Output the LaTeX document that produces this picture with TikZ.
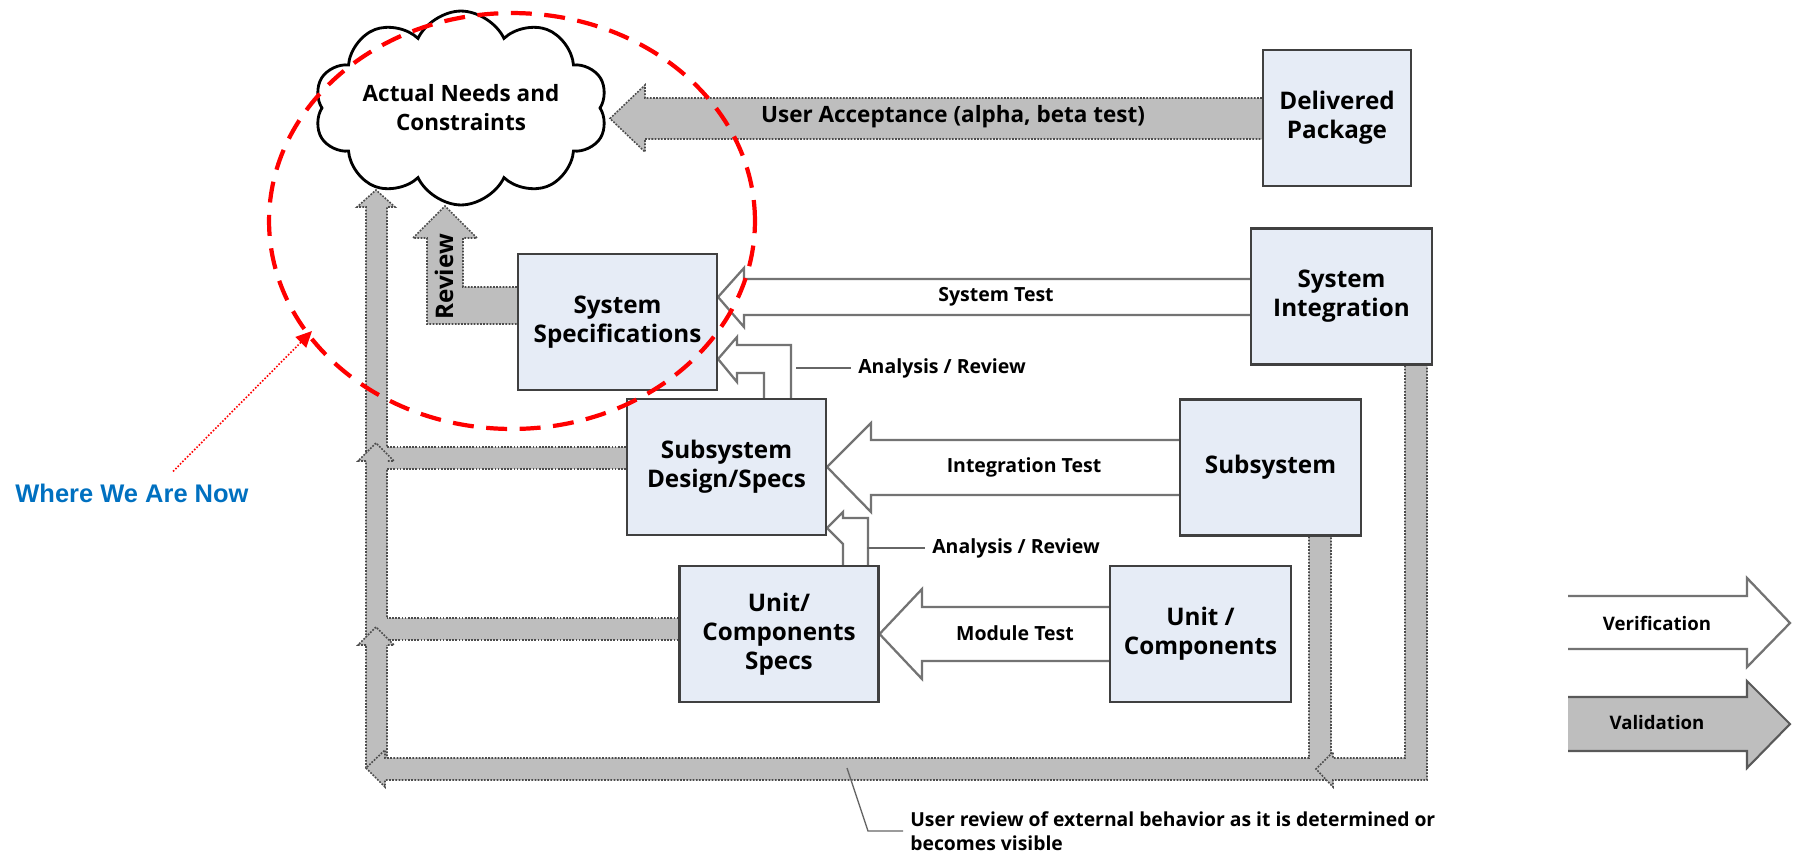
\documentclass[tikz,border=0pt]{standalone}
\usepackage{fontspec}
\setmainfont{Open Sans}
\newfontfamily\arialfont{Liberation Sans}
\usepackage{tikz}
\usetikzlibrary{arrows.meta,positioning,calc,shapes.symbols,backgrounds}

\definecolor{boxfill}{RGB}{230,236,246}
\definecolor{vgray}{RGB}{190,190,190}
\definecolor{nowblue}{RGB}{0,112,192}
\newcommand\boxfont{\fontsize{13.8}{16.5}\selectfont\bfseries}
\newcommand\cloudfont{\fontsize{12.8}{16.5}\selectfont\bfseries}
\newcommand\lblfont{\fontsize{11.1}{13}\selectfont\bfseries}
\newcommand\keyfont{\fontsize{10.6}{13}\selectfont\bfseries}
\newcommand\notefont{\fontsize{11}{13.6}\selectfont\bfseries}
\newcommand\nowfont{\arialfont\fontsize{14.5}{17}\selectfont\bfseries}

\begin{document}
\begin{tikzpicture}[x=0.02cm,y=-0.02cm,
  box/.style={draw=black!75,line width=1.2pt,fill=boxfill,align=center,font=\boxfont,
    minimum width=3.98cm,minimum height=2.72cm,inner sep=0pt},
  sbox/.style={box,minimum width=3.62cm},
  needs/.style={cloud,cloud puffs=10,cloud puff arc=130,aspect=1.9,draw,line width=1.6pt,
    minimum width=5.7cm,minimum height=3.2cm,align=center,font=\cloudfont,inner sep=0pt},
  valid/.style={fill=vgray,draw=black!70,line width=0.9pt,dash pattern=on 1pt off 0.8pt},
  verif/.style={fill=white,draw=black!55,line width=1.3pt},
  lbl/.style={font=\lblfont,inner sep=4pt},
  lead/.style={draw=black!60,line width=1pt},
  ring/.style={draw=red,line width=2.4pt,dash pattern=on 0.42cm off 0.25cm}]
  \useasboundingbox (0,0) rectangle (1796,853);

  % the blocks
  \node[needs](needs) at (461,108){Actual Needs and\\Constraints};
  \node[box](spec) at (617.5,322){System\\Specifications};
  \node[box](subd) at (726.5,467){Subsystem\\Design/Specs};
  \node[box](unitd) at (779,634){Unit/\\Components\\Specs};
  \node[box,minimum width=2.96cm](deliv) at (1337,118){Delivered\\Package};
  \node[sbox](sysint) at (1341.5,296.5){System\\Integration};
  \node[sbox](subsys) at (1270.5,467.5){Subsystem};
  \node[sbox](unitc) at (1200.5,634){Unit /\\Components};

  \begin{scope}[on background layer]
    % validation (grey)
    \path[valid] (deliv.west |- 0,98) -- (645,98) -- (645,85) -- (610,118.5) -- (645,152) -- (645,139) -- (deliv.west |- 0,139);
    \path[valid] (spec.west |- 0,287) -- (463,287) -- (463,238) -- (477,238) -- (445,206) -- (413,238) -- (427,238) -- (427,324) -- (spec.west |- 0,324);
    \path[valid] (366,768) -- (366,207) -- (357,207) -- (376,190) -- (395,207) -- (387,207) -- (387,758);
    \fill[vgray] (subd.west |- 0,447) rectangle (367,469);
    \draw[valid,fill=none] (subd.west |- 0,447) -- (387,447) (subd.west |- 0,469) -- (387,469);
    \path[valid] (366,461) -- (358,461) -- (376,443) -- (394,461) -- (387,461);
    \fill[vgray] (unitd.west |- 0,618) rectangle (367,640);
    \draw[valid,fill=none] (unitd.west |- 0,618) -- (387,618) (unitd.west |- 0,640) -- (387,640);
    \path[valid] (366,645) -- (358,645) -- (376,627) -- (394,645) -- (387,645);
    \path[valid] (1309,0 |- subsys.south) -- (1309,758) -- (385,758) -- (385,750) -- (366,768) -- (385,787) -- (385,780) -- (1331,780) -- (1331,0 |- subsys.south);
    \path[valid] (1405,0 |- sysint.south) -- (1405,758) -- (1333,758) -- (1333,752) -- (1316,769) -- (1333,787) -- (1333,780) -- (1427,780) -- (1427,0 |- sysint.south);

    % verification (white)
    \path[verif] (sysint.west |- 0,279) -- (744,279) -- (744,268) -- (spec.east |- 0,297) -- (744,327) -- (744,315) -- (sysint.west |- 0,315);
    \path[verif] (subsys.west |- 0,440) -- (871,440) -- (871,423) -- (subd.east |- 0,467) -- (871,512) -- (871,495) -- (subsys.west |- 0,495);
    \path[verif] (unitc.west |- 0,607) -- (922,607) -- (922,589) -- (unitd.east |- 0,634) -- (922,679) -- (922,661) -- (unitc.west |- 0,661);
    \path[verif] (764,0 |- subd.north) -- (764,373) -- (737,373) -- (737,382) -- (spec.east |- 0,359) -- (737,337) -- (737,345) -- (791,345) -- (791,0 |- subd.north);
    \path[verif] (843,0 |- unitd.north) -- (843,544) -- (subd.east |- 0,528) -- (843,512) -- (843,518) -- (868,518) -- (868,0 |- unitd.north);
  \end{scope}

  % labels
  \node[font=\cloudfont](ua) at (953,117){User Acceptance (alpha, beta test)};
  \node[font=\boxfont,rotate=90](rev) at (444,277){Review};
  \node[lbl](st) at (996,297){System Test};
  \node[lbl](it) at (1024,467){Integration Test};
  \node[lbl](mt) at (1015,633){Module Test};
  \node[lbl](ar1) at (942,368){Analysis / Review};
  \draw[lead] (ar1.west) -- ++(-55,0);
  \node[lbl](ar2) at (1016,548){Analysis / Review};
  \draw[lead] (ar2.west) -- ++(-58,0);
  \node[font=\notefont,align=left,anchor=west,inner sep=4pt](urev) at (903,831){User review of external behavior as it is determined or\\becomes visible};
  \draw[lead,line width=0.8pt] (urev.west) -- ++(-35,0) -- ++(-21,-63);

  % legend
  \path[verif] (1568,596) -- (1747,596) -- (1747,578) -- (1790,623) -- (1747,667) -- (1747,649) -- (1568,649);
  \node[font=\keyfont](kver) at (1657,623){Verification};
  \path[fill=vgray,draw=black!65,line width=1.2pt] (1568,697) -- (1747,697) -- (1747,681) -- (1790,724) -- (1747,768) -- (1747,751) -- (1568,751);
  \node[font=\keyfont](kval) at (1657,723){Validation};

  % where we are
  \draw[ring] (512,221) ellipse [x radius=4.86cm,y radius=4.16cm];
  \node[font=\nowfont,text=nowblue](now) at (132,493){Where We Are Now};
  \coordinate (here) at (312,331);
  \draw[red,line width=0.9pt,densely dotted,-{Triangle[length=0.32cm,width=0.3cm]}] ([xshift=0.82cm,yshift=0.12cm]now.north) -- (here);
\end{tikzpicture}
\end{document}
